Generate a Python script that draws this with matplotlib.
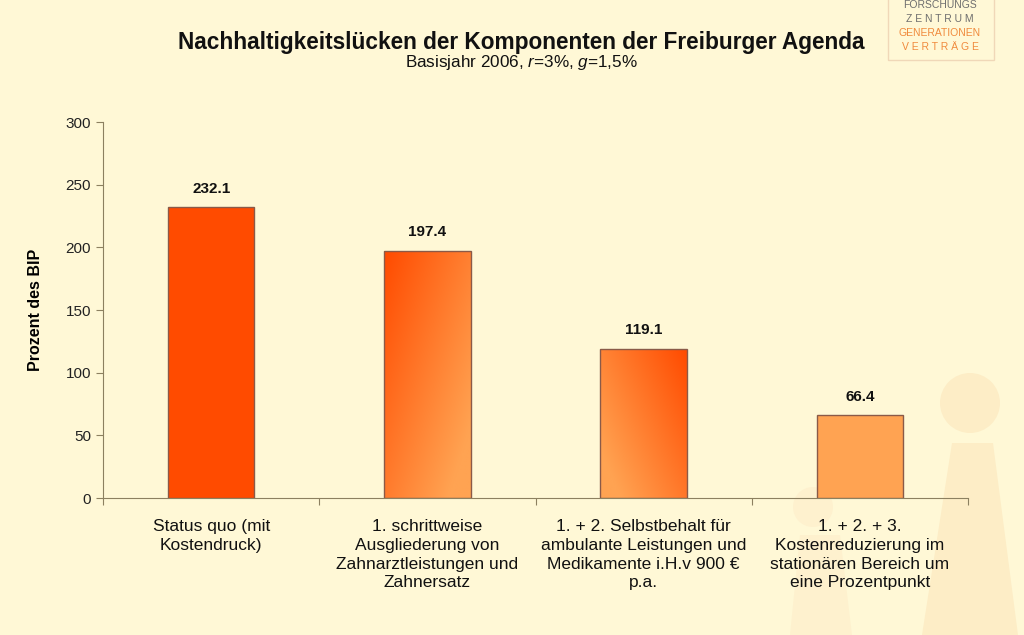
import numpy as np
import matplotlib.pyplot as plt
from matplotlib.colors import LinearSegmentedColormap
from matplotlib.patches import Circle, Polygon, Rectangle

plt.rcParams['font.family'] = ['Liberation Sans', 'DejaVu Sans']
plt.rcParams['mathtext.fontset'] = 'custom'
plt.rcParams['mathtext.rm'] = 'Liberation Sans'
plt.rcParams['mathtext.it'] = 'Liberation Sans:italic'

categories = ["Status quo (mit\nKostendruck)",
              "1. schrittweise\nAusgliederung von\nZahnarztleistungen und\nZahnersatz",
              "1. + 2. Selbstbehalt für\nambulante Leistungen und\nMedikamente i.H.v 900 €\np.a.",
              "1. + 2. + 3.\nKostenreduzierung im\nstationären Bereich um\neine Prozentpunkt"]
values = [232.1, 197.4, 119.1, 66.4]
yticks = [0, 50, 100, 150, 200, 250, 300]

bg = '#FFF8D6'
shade = '#FDEDC6'
red = '#FF4B00'
light = '#FFA352'

fig = plt.figure(figsize=(10.24, 6.35), dpi=100, facecolor=bg)

# faint background figures (pixel coordinates)
bgax = fig.add_axes([0, 0, 1, 1], zorder=-1)
bgax.set_xlim(0, 1024)
bgax.set_ylim(635, 0)
bgax.axis('off')
bgax.add_patch(Circle((970, 403), 30, facecolor=shade, edgecolor='none'))
bgax.add_patch(Polygon([(952, 443), (993, 443), (1018, 635), (922, 635)], closed=True,
                       facecolor=shade, edgecolor='none'))
bgax.add_patch(Circle((813, 507), 20, facecolor='#FEF1CE', edgecolor='none'))
bgax.add_patch(Polygon([(800, 535), (840, 535), (852, 635), (790, 635)], closed=True,
                       facecolor='#FEF1CE', edgecolor='none'))

ax = fig.add_axes([0.1006, 0.2157, 0.8447, 0.5921])
ax.set_facecolor('none')

x = np.arange(len(values))
bars = ax.bar(x, values, width=0.4, color=[red, 'none', 'none', light],
              edgecolor='#8A5A48', linewidth=1.0, zorder=3)

# gradient fills for bars 2 and 3
cmap = LinearSegmentedColormap.from_list('og', [red, light])
gx, gy = np.meshgrid(np.linspace(0, 1, 64), np.linspace(0, 1, 64))
grad2 = np.clip(0.6 * gx + 0.55 * gy, 0, 1)          # dark top-left -> light bottom-right
grad3 = np.clip(0.65 * (1 - gx) + 0.5 * gy, 0, 1)    # light bottom-left -> dark top-right
for b, g in [(bars[1], grad2), (bars[2], grad3)]:
    x0, w, h = b.get_x(), b.get_width(), b.get_height()
    im = ax.imshow(g, cmap=cmap, vmin=0, vmax=1, origin='upper', aspect='auto',
                   extent=[x0, x0 + w, 0, h], zorder=2, interpolation='bilinear')
    im.set_clip_path(b)

for xi, v in zip(x, values):
    ax.text(xi, v + 9, f"{v:.1f}", ha='center', va='bottom', fontsize=11, fontweight='bold', color='#111111')

ax.set_xlim(-0.5, len(values) - 0.5)
ax.set_ylim(0, 300)
ax.set_yticks(yticks)
ax.tick_params(axis='y', labelsize=11, colors='#222222', length=5, color='#8C8060')
ax.set_xticks(np.arange(-0.5, len(values)), minor=False)
ax.set_xticklabels([])
ax.set_xticks(x, minor=True)
ax.set_xticklabels(categories, minor=True, fontsize=12.5, linespacing=1.32, color='#111111')
ax.tick_params(axis='x', which='major', length=5, color='#8C8060')
ax.tick_params(axis='x', which='minor', length=0, pad=15)
for s in ['top', 'right']:
    ax.spines[s].set_visible(False)
for s in ['left', 'bottom']:
    ax.spines[s].set_color('#8C8060')
ax.set_ylabel('Prozent des BIP', fontsize=11.5, fontweight='bold', labelpad=16)
ax.autoscale(False)

fig.text(0.509, 1 - 42 / 635, 'Nachhaltigkeitslücken der Komponenten der Freiburger Agenda',
         ha='center', va='center', fontsize=16.3, fontweight='bold', color='#111111')
fig.text(0.509, 1 - 62 / 635, 'Basisjahr 2006, $\\it{r}$=3%, $\\it{g}$=1,5%',
         ha='center', va='center', fontsize=12.3, color='#111111')

# logo box
fig.patches.append(Rectangle((888 / 1024, 1 - 60 / 635), 106 / 1024, 62 / 635, transform=fig.transFigure,
                             facecolor='none', edgecolor='#F0D8B8', linewidth=1.0))
logo = [('FORSCHUNGS', '#6E6E6E', 5), ('Z E N T R U M', '#6E6E6E', 19),
        ('GENERATIONEN', '#F08A3C', 33), ('V E R T R Ä G E', '#F08A3C', 47)]
for t, c, yy in logo:
    fig.text(940 / 1024, 1 - yy / 635, t, ha='center', va='center', fontsize=7.5, color=c)

fig.savefig('out.png', dpi=100, facecolor=bg)
